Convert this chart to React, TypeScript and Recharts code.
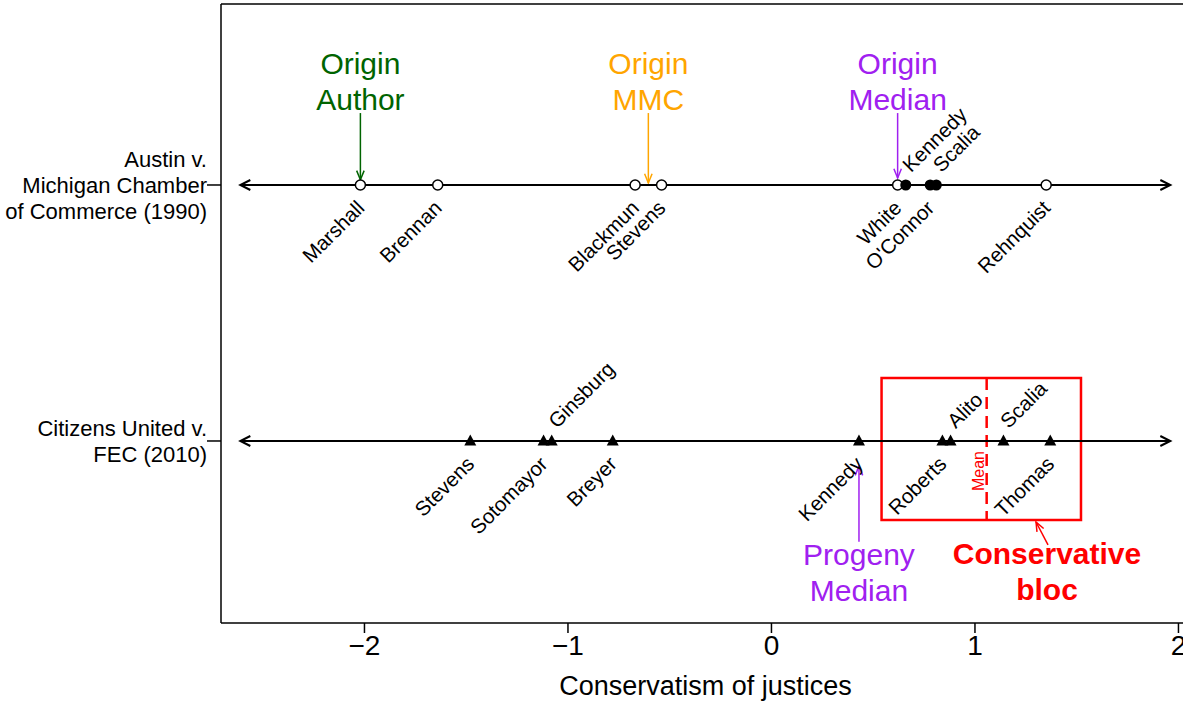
import {
  ScatterChart, Scatter, XAxis, YAxis, ReferenceLine, ReferenceArea, ReferenceDot,
} from 'recharts';

const FONT = '"Liberation Sans", Arial, Helvetica, sans-serif';

// Austin v. Michigan Chamber of Commerce (1990)
const austinJustices = ['Marshall', 'Brennan', 'Blackmun', 'Stevens', 'White', 'Kennedy', "O'Connor", 'Scalia', 'Rehnquist'];
const austinScores = [-2.02, -1.64, -0.67, -0.54, 0.62, 0.66, 0.78, 0.81, 1.35];
const austinVotes = ['majority', 'majority', 'majority', 'majority', 'majority', 'dissent', 'dissent', 'dissent', 'majority'];
const austinLabelSides = ['below', 'below', 'below', 'below', 'below', 'above', 'below', 'above', 'below'];
const austinAuthor = 'Marshall';

// Citizens United v. FEC (2010)
const citizensJustices = ['Stevens', 'Sotomayor', 'Ginsburg', 'Breyer', 'Kennedy', 'Roberts', 'Alito', 'Scalia', 'Thomas'];
const citizensScores = [-1.48, -1.12, -1.08, -0.78, 0.43, 0.84, 0.88, 1.14, 1.37];
const citizensLabelSides = ['below', 'below', 'above', 'below', 'below', 'below', 'above', 'above', 'below'];
const blocMembers = ['Roberts', 'Alito', 'Scalia', 'Thomas'];

const caseRows = [1, 2];
const caseNames = [
  ['Citizens United v.', 'FEC (2010)'],
  ['Austin v.', 'Michigan Chamber', 'of Commerce (1990)'],
];
const xTicks = [-2, -1, 0, 1, 2];

const X_DOMAIN: [number, number] = [-2.705, 2.0567];
const Y_DOMAIN: [number, number] = [0.289, 2.707];
const ROW_LINE_ENDS = [-2.61, 1.96];

const GREEN = '#006400';
const ORANGE = '#FFA500';
const PURPLE = '#A020F0';
const RED = '#FF0000';

const median = (vals: number[]) => {
  const s = [...vals].sort((a, b) => a - b);
  const m = Math.floor(s.length / 2);
  return s.length % 2 ? s[m] : (s[m - 1] + s[m]) / 2;
};

const austinData = austinJustices.map((name, i) => ({
  x: austinScores[i], y: 2, name, vote: austinVotes[i], side: austinLabelSides[i], marker: 'circle',
}));
const citizensData = citizensJustices.map((name, i) => ({
  x: citizensScores[i], y: 1, name, side: citizensLabelSides[i], marker: 'triangle',
}));

const authorScore = austinScores[austinJustices.indexOf(austinAuthor)];
const mmcScore = median(austinScores.filter((_, i) => austinVotes[i] === 'majority'));
const originMedian = median(austinScores);
const progenyMedian = median(citizensScores);
const blocScores = blocMembers.map(n => citizensScores[citizensJustices.indexOf(n)]);
const blocMean = blocScores.reduce((a, b) => a + b, 0) / blocScores.length;

// box drawn round the conservative bloc
const blocBox = { x1: 0.541, x2: 1.521, y1: 0.691, y2: 1.246 };

const annotations = [
  { lines: ['Origin', 'Author'], color: GREEN, x: authorScore, textY: 2.434, fromY: 2.281, toY: 2.02 },
  { lines: ['Origin', 'MMC'], color: ORANGE, x: mmcScore, textY: 2.434, fromY: 2.281, toY: 2.008 },
  { lines: ['Origin', 'Median'], color: PURPLE, x: originMedian, textY: 2.434, fromY: 2.281, toY: 2.027 },
  { lines: ['Progeny', 'Median'], color: PURPLE, x: progenyMedian, textY: 0.516, fromY: 0.606, toY: 0.902 },
];

const blocNote = { lines: ['Conservative', 'bloc'], x: 1.354, textY: 0.5195, from: { x: 1.359, y: 0.594 }, to: { x: 1.3, y: 0.6836 } };

function headPath(x1: number, y1: number, x2: number, y2: number, len: number, deg: number) {
  const a = Math.atan2(y2 - y1, x2 - x1);
  const t = (deg * Math.PI) / 180;
  const ax = x2 - len * Math.cos(a - t), ay = y2 - len * Math.sin(a - t);
  const bx = x2 - len * Math.cos(a + t), by = y2 - len * Math.sin(a + t);
  return `M${ax},${ay} L${x2},${y2} L${bx},${by}`;
}

function Arrow(color: string) {
  return (p: any) => (
    <g>
      <line x1={p.x1} y1={p.y1} x2={p.x2} y2={p.y2} stroke={color} strokeWidth={1.5} />
      <path d={headPath(p.x1, p.y1, p.x2, p.y2, 10, 22)} stroke={color} strokeWidth={1.5} fill="none" />
    </g>
  );
}

function NoteText(lines: string[], color: string, bold = false) {
  return (p: any) => (
    <text x={p.cx} y={p.cy} textAnchor="middle" fontSize={30} fontFamily={FONT}
      fontWeight={bold ? 'bold' : 'normal'} fill={color}>
      {lines.map((l, i) => <tspan key={i} x={p.cx} y={p.cy + i * 36}>{l}</tspan>)}
    </text>
  );
}

function JusticeMark(p: any) {
  const { cx, cy, payload } = p;
  let mark;
  if (payload.marker === 'triangle') {
    mark = <path d={`M${cx},${cy - 6.5} L${cx - 6},${cy + 4.5} L${cx + 6},${cy + 4.5} Z`} fill="#000" />;
  } else if (payload.vote === 'dissent') {
    mark = <circle cx={cx} cy={cy} r={5.5} fill="#000" />;
  } else {
    mark = <circle cx={cx} cy={cy} r={5} fill="#fff" stroke="#000" strokeWidth={1.5} />;
  }
  const above = payload.side === 'above';
  const lx = cx;
  const ly = above ? cy - 17 : cy + 19;
  return (
    <g>
      {mark}
      <text x={lx} y={ly} transform={`rotate(-45 ${lx} ${ly})`} textAnchor={above ? 'start' : 'end'}
        dominantBaseline="central" fontSize={20.5} fontFamily={FONT} fill="#000">
        {payload.name}
      </text>
    </g>
  );
}

function RowEnd(p: any) {
  const { cx, cy, payload } = p;
  const d = payload.end === 'left' ? -1 : 1;
  return (
    <path d={`M${cx - d * 10},${cy - 5} L${cx},${cy} L${cx - d * 10},${cy + 5}`}
      stroke="#000" strokeWidth={2} fill="none" />
  );
}

function CaseTick(p: any) {
  const { x, y, payload } = p;
  const lines = caseNames[caseRows.indexOf(payload.value)] || [];
  const n = lines.length;
  return (
    <text x={x} y={y} textAnchor="end" fontSize={22} fontFamily={FONT} fill="#000">
      {lines.map((l, i) => <tspan key={i} x={x} y={y + 8 + (i - (n - 1) / 2) * 26}>{l}</tspan>)}
    </text>
  );
}

function ValueTick(p: any) {
  const { x, y, payload } = p;
  const v = payload.value as number;
  const label = v < 0 ? `\u2212${Math.abs(v)}` : `${v}`;
  return (
    <text x={x} y={y} dy={22} textAnchor="middle" fontSize={28} fontFamily={FONT} fill="#000">{label}</text>
  );
}

function MeanLine(p: any) {
  const tx = p.x1 - 8;
  const ty = (p.y1 + p.y2) / 2 + 22;
  return (
    <g>
      <line x1={p.x1} y1={p.y1} x2={p.x2} y2={p.y2} stroke={RED} strokeWidth={2.5} strokeDasharray="12 7" />
      <text x={tx} y={ty} transform={`rotate(-90 ${tx} ${ty})`}
        textAnchor="middle" dominantBaseline="central" fontSize={16} fontFamily={FONT} fill={RED}>
        Mean
      </text>
    </g>
  );
}

export default function App() {
  const rowLine = (y: number) => ROW_LINE_ENDS.map((x, i) => ({ x, y, end: i === 0 ? 'left' : 'right' }));
  return (
    <div style={{
      position: 'absolute', left: 0, top: 0, width: 1183, height: 704,
      overflow: 'hidden', background: '#fff', fontFamily: FONT,
    }}>
      <ScatterChart width={1200} height={704} margin={{ top: 4, right: 10, bottom: 0, left: 0 }}>
        <XAxis
          type="number" dataKey="x" domain={X_DOMAIN} ticks={xTicks} allowDataOverflow
          height={81} tickSize={10} tickMargin={0} interval={0}
          axisLine={{ stroke: '#000', strokeWidth: 1.5 }} tickLine={{ stroke: '#000', strokeWidth: 1.5 }}
          tick={<ValueTick />}
          label={{ value: 'Conservatism of justices', position: 'insideBottom', offset: 9, fontSize: 27, fill: '#000', fontFamily: FONT }}
        />
        <YAxis
          type="number" dataKey="y" domain={Y_DOMAIN} ticks={caseRows} allowDataOverflow
          width={221} tickSize={14} tickMargin={0} interval={0}
          axisLine={{ stroke: '#000', strokeWidth: 1.5 }} tickLine={{ stroke: '#000', strokeWidth: 1.5 }}
          tick={<CaseTick />}
        />
        <ReferenceLine y={Y_DOMAIN[1]} stroke="#000" strokeWidth={1.5} />
        <ReferenceLine x={X_DOMAIN[1]} stroke="#000" strokeWidth={1.5} />

        <ReferenceArea {...blocBox} fill="none" fillOpacity={0} stroke={RED} strokeWidth={2.5} />
        <ReferenceLine segment={[{ x: blocMean, y: blocBox.y2 }, { x: blocMean, y: blocBox.y1 }]} shape={MeanLine} />

        <Scatter data={rowLine(2)} line={{ stroke: '#000', strokeWidth: 2 }} shape={RowEnd} isAnimationActive={false} />
        <Scatter data={rowLine(1)} line={{ stroke: '#000', strokeWidth: 2 }} shape={RowEnd} isAnimationActive={false} />
        <Scatter data={austinData} shape={JusticeMark} isAnimationActive={false} />
        <Scatter data={citizensData} shape={JusticeMark} isAnimationActive={false} />

        {annotations.map((a, i) => (
          <ReferenceLine key={`arrow-${i}`} segment={[{ x: a.x, y: a.fromY }, { x: a.x, y: a.toY }]} shape={Arrow(a.color)} />
        ))}
        {annotations.map((a, i) => (
          <ReferenceDot key={`note-${i}`} x={a.x} y={a.textY} r={0} shape={NoteText(a.lines, a.color)} />
        ))}
        <ReferenceLine segment={[blocNote.from, blocNote.to]} shape={Arrow(RED)} />
        <ReferenceDot x={blocNote.x} y={blocNote.textY} r={0} shape={NoteText(blocNote.lines, RED, true)} />
      </ScatterChart>
    </div>
  );
}
